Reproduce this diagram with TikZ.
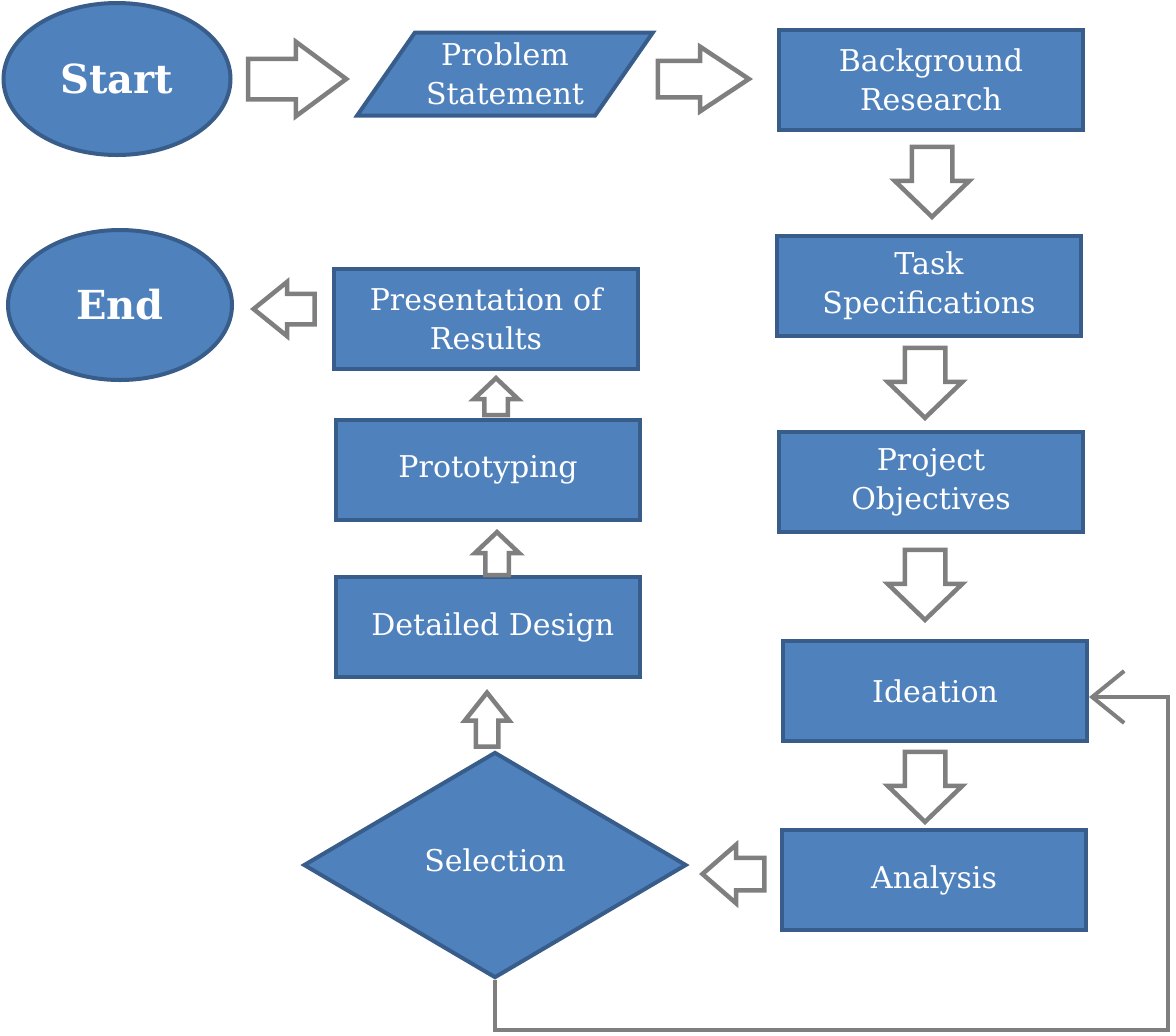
\documentclass[tikz,border=0pt]{standalone}
\usepackage{fontspec}
\setmainfont{DejaVu Serif}
\usetikzlibrary{shapes.geometric,shapes.arrows,arrows.meta}
\definecolor{boxblue}{HTML}{4F81BD}
\definecolor{boxline}{HTML}{385D8A}
\definecolor{arrowgray}{HTML}{7F7F7F}
\tikzset{
block/.style={
	draw=boxline, fill=boxblue, line width=2pt, text=white,
	align=center, minimum width=152pt, minimum height=50pt,
	font=\fontsize{15}{19.5}\selectfont},
term/.style={block, ellipse, font=\fontsize{20}{24}\selectfont\bfseries},
io/.style={block, trapezium, trapezium left angle=54,
	trapezium right angle=126, trapezium stretches=true,
	minimum width=148pt, minimum height=41.5pt},
decision/.style={block, diamond, minimum width=191.5pt, minimum height=113pt},
bigarrow/.style={
	single arrow, draw=arrowgray, fill=white, line width=2.25pt,
	inner xsep=0pt, line join=miter, anchor=tip},
feedback/.style={draw=arrowgray, line width=2pt,
	-{Straight Barb[length=16pt,width=26pt]}}
}

\begin{document}
\begin{tikzpicture}[x=0.5pt,y=-0.5pt]
	\useasboundingbox (0,0) rectangle (1176,1035);
	% top row
	\node[term, minimum width=113.5pt, minimum height=76pt] (start) at (117,79) {Start};
	\node[io] (prob) at (505,74) {Problem\\Statement};
	\node[block] (back) at (931,80) {Background\\Research};
	% right column
	\node[block] (task) at (929,286) {Task\\Specifications};
	\node[block] (obj) at (931,482) {Project\\Objectives};
	\node[block] (idea) at (935,691) {Ideation};
	\node[block] (ana) at (934,880) {Analysis};
	% left column
	\node[decision] (sel) at (495,865) {\raisebox{5pt}{Selection}};
	\node[block] (det) at (488,627) {\ Detailed Design};
	\node[block] (proto) at (488,470) {Prototyping};
	\node[block] (pres) at (486,319) {Presentation of\\Results};
	\node[term, minimum width=112pt, minimum height=75pt] (stop) at (120,305) {End};

	% block arrows, placed by their tips
	\node[bigarrow, minimum height=49pt, inner ysep=9pt,
		single arrow head extend=8.5pt, single arrow tip angle=73] (a1) at (350,79) {};
	\node[bigarrow, minimum height=45.5pt, inner ysep=8pt,
		single arrow head extend=7pt, single arrow tip angle=67] (a2) at (753,79) {};
	\foreach \x/\y/\n in {932/220/d1, 925/421/d2, 925/623/d3, 925/825/d4}
		\node[bigarrow, rotate=-90, minimum height=35pt, inner ysep=9pt,
			single arrow head extend=8.5pt, single arrow tip angle=92] (\n) at (\x,\y) {};
	\node[bigarrow, rotate=180, minimum height=31pt, inner ysep=7pt,
		single arrow head extend=6.5pt, single arrow tip angle=82] (l2) at (699,874) {};
	\node[bigarrow, rotate=90, minimum height=27pt, inner ysep=4.5pt,
		single arrow head extend=5.5pt, single arrow tip angle=77] (u1) at (487,689) {};
	\node[bigarrow, rotate=90, minimum height=21.5pt, inner ysep=4.75pt,
		single arrow head extend=5.25pt, single arrow tip angle=93] (u2) at (497,529) {};
	\node[bigarrow, rotate=90, minimum height=18.5pt, inner ysep=4.75pt,
		single arrow head extend=5.25pt, single arrow tip angle=93] (u3) at (496,375) {};
	\node[bigarrow, rotate=180, minimum height=30.5pt, inner ysep=6.5pt,
		single arrow head extend=6pt, single arrow tip angle=78] (l1) at (250,309) {};

	% loop back to ideation
	\coordinate (loop) at (1168,1030);
	\draw[feedback] (sel.south) |- (loop) |- ([yshift=-3pt]idea.east);
\end{tikzpicture}
\end{document}
